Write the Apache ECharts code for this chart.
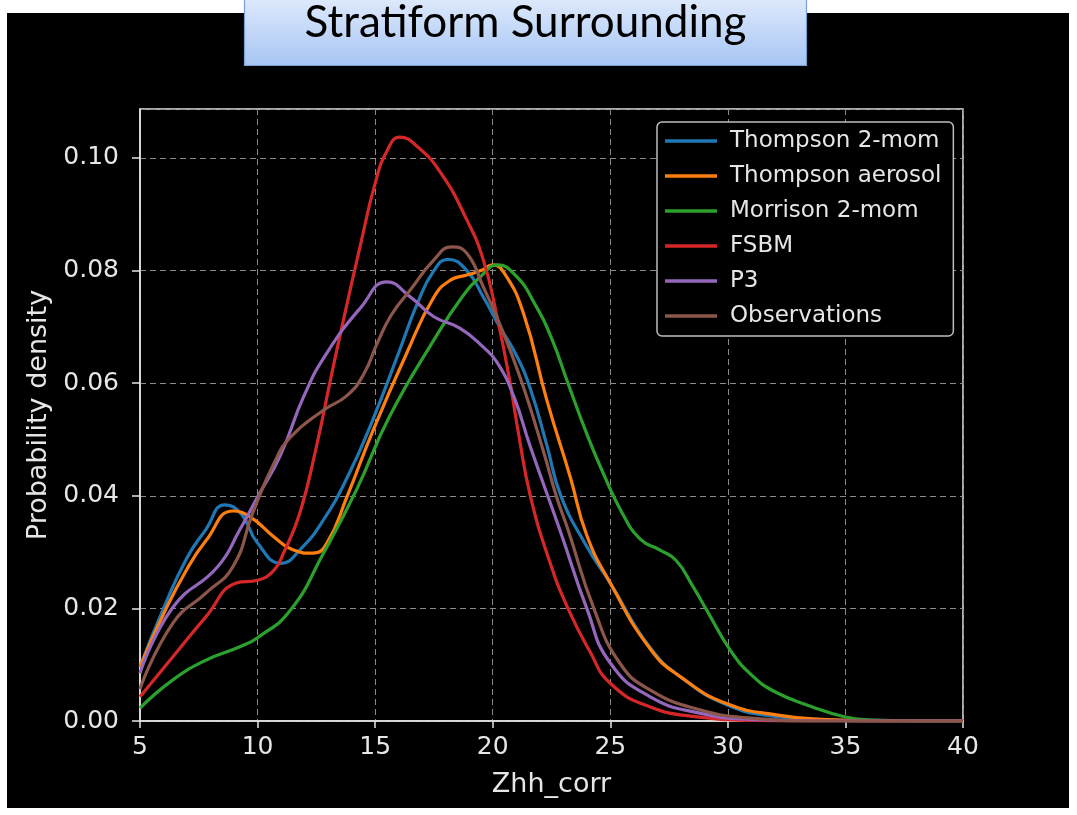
<!DOCTYPE html>
<html>
<head>
<meta charset="utf-8">
<script src="https://cdn.jsdelivr.net/npm/echarts@6/dist/echarts.min.js"></script>
<style>
  html, body { margin: 0; padding: 0; background: #ffffff; }
  #chart { width: 1077px; height: 815px; }
</style>
</head>
<body>
<div id="chart"></div>
<script>
// Kernel density estimates of corrected Zhh (dBZ) for stratiform surrounding regions.
// Each series: [Zhh_corr, probability density] pairs.
const seriesNames = ['Thompson 2-mom', 'Thompson aerosol', 'Morrison 2-mom', 'FSBM', 'P3', 'Observations'];
const seriesColors = ['#1f77b4', '#ff7f0e', '#2ca02c', '#d62728', '#9467bd', '#8c564b'];

const thompson2mom = [
  [5, 0.0096], [6, 0.020], [7, 0.029], [7.8, 0.034], [8.6, 0.0384], [9.3, 0.0368], [10, 0.0316],
  [11, 0.028], [11.8, 0.0304], [12.8, 0.0357], [13.9, 0.044], [14.9, 0.0535], [16, 0.0654],
  [16.8, 0.0742], [17.5, 0.080], [18.1, 0.082], [18.9, 0.080], [19.6, 0.0753], [20.3, 0.070],
  [21, 0.065], [21.6, 0.059], [22.3, 0.049], [22.9, 0.040], [24, 0.031], [25, 0.0245], [26.7, 0.013],
  [28.1, 0.0075], [30, 0.0028], [32, 0.0008], [34, 0.0002], [36, 0], [40, 0]
];
const thompsonAerosol = [
  [5, 0.0096], [6, 0.019], [7, 0.027], [7.8, 0.032], [8.95, 0.0373], [9.7, 0.0362], [10.7, 0.0327],
  [11.5, 0.0304], [12.35, 0.0298], [12.95, 0.0316], [13.8, 0.0398], [14.9, 0.0515], [16.35, 0.0654],
  [17.5, 0.0753], [18.2, 0.0783], [18.9, 0.0792], [19.5, 0.080], [20, 0.081], [20.5, 0.0795],
  [21.3, 0.0725], [22.3, 0.057], [23.3, 0.0433], [24, 0.033], [25, 0.0245], [26.7, 0.0128],
  [28, 0.0078], [30, 0.003], [32.2, 0.001], [34, 0.0003], [37, 0], [40, 0]
];
const morrison2mom = [
  [5, 0.0023], [6.4, 0.0073], [7.8, 0.0108], [9.25, 0.0132], [10, 0.0148], [11.4, 0.0197],
  [12.8, 0.0298], [14.2, 0.041], [15.6, 0.054], [17.5, 0.0677], [18.7, 0.0753], [19.5, 0.079],
  [20.2, 0.081], [21, 0.079], [21.8, 0.074], [22.5, 0.068], [23.2, 0.060], [24, 0.051],
  [24.7, 0.044], [25.5, 0.037], [26.3, 0.0322], [27.1, 0.0304], [27.8, 0.0285], [28.5, 0.024],
  [29.1, 0.0197], [30.1, 0.0126], [31, 0.0082], [32, 0.0052], [33.6, 0.0025], [35, 0.0007],
  [36, 0.0002], [38, 0], [40, 0]
];
const fsbm = [
  [5, 0.0043], [6.4, 0.0114], [7.8, 0.0185], [9.1, 0.0245], [10, 0.025], [10.7, 0.0268],
  [11.1, 0.0298], [11.8, 0.037], [12.5, 0.0487], [13.1, 0.0606], [13.65, 0.0712], [14.4, 0.085],
  [15, 0.0955], [15.5, 0.1012], [16.05, 0.1037], [16.8, 0.102], [17.8, 0.0973], [18.9, 0.089],
  [19.6, 0.0819], [20.2, 0.0715], [20.7, 0.061], [21.1, 0.051], [21.6, 0.040], [22.4, 0.0286],
  [23.2, 0.020], [24.1, 0.0126], [25, 0.0067], [26.7, 0.0025], [28.8, 0.0007], [31, 0.0001],
  [33, 0], [40, 0]
];
const p3 = [
  [5, 0.0085], [6.4, 0.0202], [8.3, 0.0274], [9.25, 0.034], [10, 0.0398], [10.95, 0.047],
  [12, 0.058], [12.95, 0.0654], [14.4, 0.0735], [15.5, 0.078], [16.5, 0.0753], [17.5, 0.0718],
  [18.6, 0.0698], [19.6, 0.0664], [20.2, 0.0636], [20.9, 0.0576], [21.6, 0.0487], [22.9, 0.0334],
  [24, 0.020], [25, 0.0103], [26.7, 0.0043], [28.8, 0.0014], [31, 0.0003], [34, 0], [40, 0]
];
const observations = [
  [5, 0.0057], [6.4, 0.0174], [7.8, 0.0227], [8.95, 0.0274], [9.8, 0.037], [10.7, 0.0458],
  [11.4, 0.0504], [12.8, 0.0552], [13.8, 0.0578], [14.5, 0.0615], [15.1, 0.0672], [15.7, 0.0722],
  [16.5, 0.0766], [17.5, 0.0819], [18.25, 0.0842], [18.9, 0.0831], [19.6, 0.0771], [20.3, 0.0705],
  [21.2, 0.0606], [22.15, 0.048], [22.7, 0.040], [23.2, 0.034], [24.3, 0.020], [25.4, 0.0103],
  [26.7, 0.0055], [28.8, 0.002], [31, 0.0005], [34, 0], [40, 0]
];
const allSeries = [thompson2mom, thompsonAerosol, morrison2mom, fsbm, p3, observations];

const xTicks = [5, 10, 15, 20, 25, 30, 35, 40];
const yTicks = [0.00, 0.02, 0.04, 0.06, 0.08, 0.10];

const chart = echarts.init(document.getElementById('chart'), null, { renderer: 'canvas' });
const fg = '#e6e6e6';
const tickFont = 'DejaVu Sans';

chart.setOption({
  backgroundColor: '#ffffff',
  animation: false,
  graphic: [
    { type: 'rect', z: -10, shape: { x: 7, y: 13, width: 1062, height: 795 }, style: { fill: '#000000' } },
    {
      type: 'rect', z: 10,
      shape: { x: 244.5, y: -3, width: 562, height: 68.5 },
      style: {
        fill: new echarts.graphic.LinearGradient(0, 0, 0, 1, [
          { offset: 0, color: '#dfeafc' },
          { offset: 1, color: '#a6c5f4' }
        ]),
        stroke: '#7c9fd3', lineWidth: 1.2
      }
    },
    {
      type: 'text', z: 11, x: 525.5, y: 23,
      style: {
        text: 'Stratiform Surrounding', fill: '#000000', font: '44px Lato',
        align: 'center', verticalAlign: 'middle'
      }
    }
  ],
  grid: {
    left: 140, top: 109, right: 114, bottom: 94,
    show: true, borderColor: fg, borderWidth: 1.5, backgroundColor: 'transparent'
  },
  legend: {
    orient: 'vertical', left: 657, top: 122,
    data: seriesNames,
    icon: 'rect', itemWidth: 52, itemHeight: 3.5, itemGap: 11,
    padding: [7, 12, 8, 8],
    backgroundColor: '#000000',
    borderColor: '#bdbdbd', borderWidth: 1.5, borderRadius: 5,
    textStyle: { color: fg, fontFamily: tickFont, fontSize: 23, lineHeight: 24, padding: [0, 0, 0, 8] }
  },
  xAxis: {
    type: 'value', min: 5, max: 40, interval: 5,
    name: 'Zhh_corr', nameLocation: 'middle', nameGap: 50,
    nameTextStyle: { color: fg, fontFamily: tickFont, fontSize: 27 },
    axisLine: { show: true, lineStyle: { color: fg, width: 1.5 } },
    axisTick: { show: true, length: 7, lineStyle: { color: fg, width: 1.5 } },
    axisLabel: { color: fg, fontFamily: tickFont, fontSize: 25, margin: 14 },
    splitLine: { show: true, lineStyle: { color: '#8a8a8a', width: 1, type: [6, 4] } }
  },
  yAxis: {
    type: 'value', min: 0, max: 0.1087, interval: 0.02,
    name: 'Probability density', nameLocation: 'middle', nameGap: 88, nameRotate: 90,
    nameTextStyle: { color: fg, fontFamily: tickFont, fontSize: 27 },
    axisLine: { show: true, lineStyle: { color: fg, width: 1.5 } },
    axisTick: { show: true, length: 8, lineStyle: { color: fg, width: 1.5 } },
    axisLabel: {
      color: fg, fontFamily: tickFont, fontSize: 25, margin: 21, showMaxLabel: false,
      formatter: v => v.toFixed(2)
    },
    splitLine: { show: true, lineStyle: { color: '#8a8a8a', width: 1, type: [6, 4] } }
  },
  series: allSeries.map((d, i) => ({
    name: seriesNames[i],
    type: 'line',
    data: d,
    showSymbol: false,
    smooth: 0.5,
    clip: true,
    lineStyle: { color: seriesColors[i], width: 3.2 },
    itemStyle: { color: seriesColors[i] }
  }))
});
</script>
</body>
</html>
